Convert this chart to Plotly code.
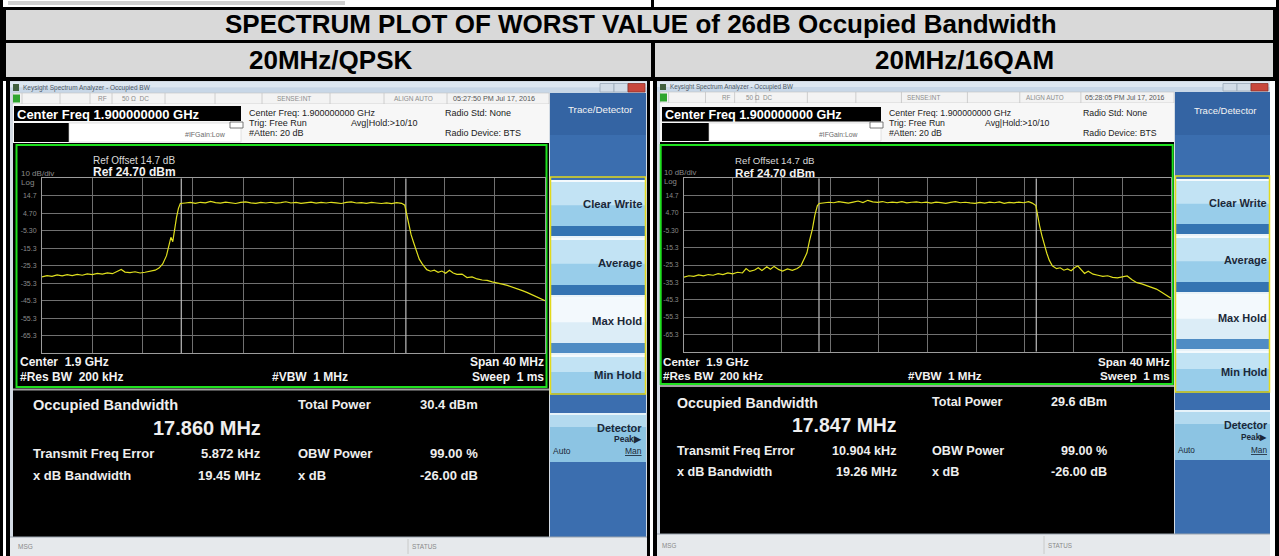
import plotly.graph_objects as go

W, H = 1279, 556

# ------------------------------------------------------------------ data
title_text = "SPECTRUM PLOT OF WORST VALUE of 26dB Occupied Bandwidth"
modulations = ["20MHz/QPSK", "20MHz/16QAM"]
center_freq_mhz = 1900.0
span_mhz = 40.0
ref_level_dbm = 24.7
ref_offset_db = 14.7
db_per_div = 10
rbw_khz = 200
vbw_mhz = 1
sweep_ms = 1
atten_db = 20
y_tick_vals = [14.7, 4.7, -5.3, -15.3, -25.3, -35.3, -45.3, -55.3, -65.3]
y_tick_text = ["14.7", "4.70", "-5.30", "-15.3", "-25.3", "-35.3", "-45.3", "-55.3", "-65.3"]
timestamps = ["05:27:50 PM Jul 17, 2016", "05:28:05 PM Jul 17, 2016"]
occupied_bw_mhz = [17.860, 17.847]
total_power_dbm = [30.4, 29.6]
freq_error_khz = [5.872, 10.904]
xdb_bandwidth_mhz = [19.45, 19.26]
obw_power_pct = [99.00, 99.00]
xdb_value_db = [-26.00, -26.00]
softkeys = ["Clear Write", "Average", "Max Hold", "Min Hold"]

qpsk_freq = [1880.0, 1880.4, 1880.8, 1881.2, 1881.6, 1882.0, 1882.4, 1882.8, 1883.2, 1883.6,
             1884.0, 1884.4, 1884.8, 1885.2, 1885.6, 1886.0, 1886.3, 1886.6, 1887.0, 1887.4,
             1887.8, 1888.2, 1888.6, 1889.0, 1889.3, 1889.6, 1889.9, 1890.1, 1890.25, 1890.4,
             1890.55, 1890.7, 1890.85, 1891.0, 1891.4, 1891.8, 1892.2, 1892.6, 1893.0, 1893.4,
             1893.8, 1894.2, 1894.6, 1895.0, 1895.4, 1895.8, 1896.2, 1896.6, 1897.0, 1897.4,
             1897.8, 1898.2, 1898.6, 1899.0, 1899.4, 1899.8, 1900.2, 1900.6, 1901.0, 1901.4,
             1901.8, 1902.2, 1902.6, 1903.0, 1903.4, 1903.8, 1904.2, 1904.6, 1905.0, 1905.4,
             1905.8, 1906.2, 1906.6, 1907.0, 1907.4, 1907.8, 1908.2, 1908.6, 1908.85, 1909.0,
             1909.15, 1909.35, 1909.55, 1909.8, 1910.0, 1910.25, 1910.6, 1910.9, 1911.2, 1911.5,
             1911.8, 1912.1, 1912.4, 1912.7, 1913.0, 1913.4, 1913.8, 1914.2, 1914.6, 1915.0,
             1915.4, 1915.8, 1916.2, 1916.6, 1917.0, 1917.4, 1917.8, 1918.2, 1918.6, 1919.0,
             1919.4, 1919.7, 1920.0]
qpsk_level = [-31.6, -30.9, -31.3, -30.5, -31.0, -30.4, -30.9, -30.2, -30.7, -29.9,
              -30.3, -29.6, -30.0, -29.3, -29.8, -28.4, -27.4, -28.9, -29.2, -28.7,
              -29.4, -29.0, -28.6, -27.8, -26.6, -24.2, -19.5, -14.0, -9.0, -11.5,
              -4.0, 2.5, 7.5, 10.3, 10.6, 10.9, 10.4, 11.0, 10.7, 11.5,
              10.8, 10.5, 11.1, 10.6, 10.3, 10.9, 11.2, 10.7, 10.4, 10.9,
              10.6, 11.0, 10.5, 10.8, 11.3, 10.6, 10.9, 10.4, 10.8, 11.1,
              10.5, 10.9, 10.6, 11.0, 10.7, 10.3, 10.9, 11.2, 10.6, 10.8,
              10.4, 10.9, 10.6, 10.3, 10.7, 10.2, 10.8, 10.4, 9.3, 4.0,
              -1.5, -7.5, -12.0, -18.0, -21.5, -24.3, -27.5, -28.4, -27.8, -29.0,
              -28.3, -29.6, -27.9, -29.4, -30.2, -30.0, -32.0, -31.6, -32.8, -33.4,
              -33.6, -34.5, -35.0, -35.8, -36.5, -37.5, -38.1, -39.5, -40.6, -41.8,
              -43.2, -44.0, -45.2]

qam16_freq = [1880.0, 1880.4, 1880.8, 1881.2, 1881.6, 1882.0, 1882.4, 1882.8, 1883.2, 1883.6,
              1884.0, 1884.4, 1884.8, 1885.1, 1885.4, 1885.8, 1886.1, 1886.4, 1886.8, 1887.1,
              1887.4, 1887.8, 1888.1, 1888.5, 1888.9, 1889.3, 1889.6, 1889.85, 1890.1, 1890.3,
              1890.55, 1890.75, 1890.95, 1891.1, 1891.5, 1891.9, 1892.3, 1892.7, 1893.1, 1893.5,
              1893.9, 1894.3, 1894.7, 1895.1, 1895.5, 1895.9, 1896.3, 1896.7, 1897.1, 1897.5,
              1897.9, 1898.3, 1898.7, 1899.1, 1899.5, 1899.9, 1900.3, 1900.7, 1901.1, 1901.5,
              1901.9, 1902.3, 1902.7, 1903.1, 1903.5, 1903.9, 1904.3, 1904.7, 1905.1, 1905.5,
              1905.9, 1906.3, 1906.7, 1907.1, 1907.5, 1907.9, 1908.3, 1908.6, 1908.9, 1909.05,
              1909.2, 1909.4, 1909.6, 1909.8, 1910.0, 1910.25, 1910.6, 1910.9, 1911.2, 1911.5,
              1911.8, 1912.1, 1912.35, 1912.6, 1912.9, 1913.2, 1913.6, 1914.0, 1914.4, 1914.8,
              1915.2, 1915.6, 1916.0, 1916.4, 1916.8, 1917.2, 1917.6, 1918.0, 1918.4, 1918.8,
              1919.2, 1919.6, 1920.0]
qam16_level = [-32.3, -31.5, -31.9, -31.0, -31.6, -30.8, -31.2, -30.3, -30.8, -29.9,
               -30.4, -29.5, -29.9, -27.4, -29.0, -28.2, -26.9, -28.5, -26.3, -27.8,
               -26.1, -28.0, -28.8, -27.6, -28.4, -27.3, -25.8, -22.5, -18.3, -11.5,
               -4.5, 3.5, 8.8, 10.2, 10.5, 10.9, 10.6, 11.2, 10.8, 10.4,
               11.0, 11.6, 10.7, 12.0, 11.1, 10.8, 11.3, 10.6, 11.0, 10.7,
               11.2, 10.5, 10.9, 11.1, 10.6, 10.9, 10.4, 11.0, 10.7, 10.3,
               10.8, 11.2, 10.6, 10.9, 10.5, 10.2, 10.8, 10.4, 10.9, 10.6,
               11.1, 10.3, 10.8, 10.5, 11.0, 10.6, 11.2, 10.4, 9.0, 3.0,
               -2.5, -8.5, -14.0, -18.5, -22.5, -25.8, -27.4, -26.9, -28.3, -27.6,
               -28.6, -26.7, -25.9, -27.8, -30.2, -28.9, -30.6, -31.2, -31.9, -31.5,
               -32.4, -32.7, -32.3, -31.6, -33.8, -35.5, -36.2, -37.1, -38.0, -39.2,
               -40.9, -42.5, -44.4]

traces_freq = [qpsk_freq, qam16_freq]
traces_level = [qpsk_level, qam16_level]

# ------------------------------------------------------------------ helpers
FONT = "Arial, 'Liberation Sans', Helvetica, sans-serif"
NB = "\u00a0"
shapes, annots = [], []


def X(px):
    return px / W


def Y(py):
    return 1 - py / H


def rect(x0, y0, x1, y1, fill="rgba(0,0,0,0)", line=None, lw=0):
    shapes.append(dict(type="rect", xref="paper", yref="paper", layer="below",
                       x0=X(x0), x1=X(x1), y0=Y(y1), y1=Y(y0), fillcolor=fill,
                       line=dict(width=lw, color=line if line else "rgba(0,0,0,0)")))


def hline(x0, x1, y, color, w=1):
    shapes.append(dict(type="line", xref="paper", yref="paper", layer="below",
                       x0=X(x0), x1=X(x1), y0=Y(y), y1=Y(y), line=dict(color=color, width=w)))


def vline(x, y0, y1, color, w=1):
    shapes.append(dict(type="line", xref="paper", yref="paper", layer="below",
                       x0=X(x), x1=X(x), y0=Y(y0), y1=Y(y1), line=dict(color=color, width=w)))


def txt(x, y, s, size, color="#000000", bold=False, anchor="left"):
    annots.append(dict(xref="paper", yref="paper", x=X(x), y=Y(y),
                       text="<b>%s</b>" % s if bold else s, showarrow=False,
                       xanchor=anchor, yanchor="middle", borderpad=0, borderwidth=0,
                       font=dict(size=size, color=color, family=FONT)))


# ------------------------------------------------------------------ table
rect(0, 0, W, H, "#ffffff")
rect(0, 0, 3, H, "#000000")
rect(1276, 0, W, H, "#000000")
rect(651, 0, 654, 8, "#000000")
rect(8, 1, 345, 5, "#d0d0d0")
rect(0, 7, W, 10, "#000000")
rect(0, 7, 6, 81, "#000000")
rect(1273, 7, W, 81, "#000000")
rect(6, 10, 1273, 40, "#d9d9d9")
rect(0, 40, W, 43, "#000000")
rect(6, 43, 1273, 77, "#d9d9d9")
rect(651, 40, 655, 81, "#000000")
rect(0, 77, W, 81, "#000000")
rect(6, 81, 10, H, "#000000")
rect(647, 81, 650, H, "#000000")
rect(653, 81, 657, H, "#000000")
rect(1275, 81, W, H, "#000000")

txt(640.5, 24.5, title_text, 26, "#000000", True, "center")
txt(330.5, 60.5, modulations[0], 26, "#000000", True, "center")
txt(964.5, 60.5, modulations[1], 26, "#000000", True, "center")

# ------------------------------------------------------------------ windows
GEOM = [
    dict(s=1.0, wx=(10, 647), tb=(82, 93), st=(93, 104), hd=(104, 143), dx1=549,
         pxr=(550, 646), green=(16.5, 145, 546.5, 387), sep=389.5, sbar=(537, 556),
         cfbox=(14, 106, 241, 121), box2=(14, 123, 69, 142), ifg=(226, 134),
         hx=(249, 351, 445), hy=(113, 123, 133), sty=98.5,
         stx=(98, 122, 277, 394, 453),
         refx=93, refy=(160, 172), divx=21, divy=(173, 183),
         cenx=20, ceny=(362, 377), vbwx=272, spanx=544,
         m=(32.7, 261, 298, 477.5), my=(405, 428, 453, 475), mtp=404,
         btn=(180, 238, 297, 355, 393), det=(413, 462), dark1=537, ptx=642, tdy=109,
         dety=(428, 439, 451), msgx=(18, 412), grid=(42, 178.3, 545, 353.3)),
    dict(s=0.97, wx=(657, 1270), tb=(82, 92), st=(92, 103), hd=(103, 142), dx1=1174,
         pxr=(1175, 1270), green=(660.7, 145, 1172.7, 384), sep=386, sbar=(534, 556),
         cfbox=(662, 107, 881, 121.5), box2=(662, 123, 709, 141), ifg=(858, 134),
         hx=(889, 985, 1083), hy=(113, 123, 133), sty=97.5,
         stx=(722, 746, 907, 1026, 1085),
         refx=735, refy=(160, 172), divx=664, divy=(172, 182),
         cenx=663, ceny=(361, 375), vbwx=908, spanx=1170,
         m=(677, 897, 932, 1107), my=(403, 425, 450.7, 471.7), mtp=401.7,
         btn=(179, 236, 294, 351, 391), det=(410, 460), dark1=534, ptx=1267, tdy=110,
         dety=(425, 437, 450), msgx=(662, 1048), grid=(684, 178.3, 1171, 351.7)),
]


def draw_window(i, g):
    s = g["s"]
    wx0, wx1 = g["wx"]
    tb0, tb1 = g["tb"]
    st0, st1 = g["st"]
    hd0, hd1 = g["hd"]
    dx1 = g["dx1"]
    px0, px1 = g["pxr"]
    sb0, sb1 = g["sbar"]
    # frame
    rect(wx0, 81, wx1, H, "#d3dbe4")
    # title bar
    tm = (tb0 + tb1) / 2
    rect(wx0, tb0, wx1, tm, "#dde7f1")
    rect(wx0, tm, wx1, tb1, "#c8d7e7")
    rect(wx0 + 3, tb0 + 2, wx0 + 9, tb1 - 2, "#41603f")
    txt(wx0 + 13, tm, "Keysight Spectrum Analyzer - Occupied BW", 6.5 * s, "#4d5866")
    bx = wx1 - 47
    rect(bx, tb0 + 1.5, bx + 14, tb1 - 1, "#d3dde8", "#9aa8b8", 0.8)
    rect(bx + 14, tb0 + 1.5, bx + 28, tb1 - 1, "#d3dde8", "#9aa8b8", 0.8)
    rect(bx + 28, tb0 + 1.5, bx + 45, tb1 - 1, "#c8473c", "#8a3028", 0.8)
    # status row
    rect(wx0 + 3, st0, dx1, st1, "#f3f3f3", "#c4c4c4", 0.6)
    for rel in (12, 50, 80, 102, 155, 205, 252, 320, 374, 437):
        vline(wx0 + rel * s, st0, st1, "#c4c4c4", 0.8)
    rect(wx0 + 3, st0 + 1.5, wx0 + 10, st1 - 1.5, "#2fa52f")
    sx = g["stx"]
    sy = g["sty"]
    txt(sx[0], sy, "RF", 6.5 * s, "#8c8c8c")
    txt(sx[1], sy, "50 \u03a9" + NB + NB + "DC", 6.5 * s, "#8c8c8c")
    txt(sx[2], sy, "SENSE:INT", 6.5 * s, "#8c8c8c")
    txt(sx[3], sy, "ALIGN AUTO", 6.5 * s, "#8c8c8c")
    txt(sx[4], sy, timestamps[i], 7.2 * s, "#555555")
    # header
    rect(wx0 + 3, hd0, dx1, hd1, "#f7f7f7")
    c = g["cfbox"]
    rect(c[0], c[1], c[2], c[3], "#000000")
    txt(c[0] + 2.5, (c[1] + c[3]) / 2 + 0.5,
        "Center Freq %.9f GHz" % (center_freq_mhz / 1000), 13 * s, "#ffffff", True)
    b2 = g["box2"]
    rect(b2[0], b2[1], b2[2], b2[3], "#000000")
    rect(b2[2], b2[1], c[2], b2[3], "#ffffff", "#d0d0d0", 0.6)
    rect(c[2] - 11, b2[1] - 1, c[2] + 2, b2[1] + 5, "#ffffff", "#555555", 0.8)
    txt(g["ifg"][0], g["ifg"][1], "#IFGain:Low", 7 * s, "#6a6a6a", False, "right")
    hx, hy = g["hx"], g["hy"]
    hs = 9 * s
    txt(hx[0], hy[0], "Center Freq: %.9f GHz" % (center_freq_mhz / 1000), hs, "#222222")
    txt(hx[0], hy[1], "Trig: Free Run", hs, "#222222")
    txt(hx[1], hy[1], "Avg|Hold:>10/10", hs, "#222222")
    txt(hx[0], hy[2], "#Atten: %d dB" % atten_db, hs, "#222222")
    txt(hx[2], hy[0], "Radio Std: None", hs, "#222222")
    txt(hx[2], hy[2], "Radio Device: BTS", hs, "#222222")
    # main display
    rect(wx0 + 3, hd1, dx1, sb0, "#000000")
    gr = g["green"]
    rect(gr[0], gr[1], gr[2], gr[3], "rgba(0,0,0,0)", "#1fe01f", 2)
    hline(wx0 + 3, dx1, g["sep"], "#a0a0a0", 2)
    txt(g["refx"], g["refy"][0], "Ref Offset %.1f dB" % ref_offset_db, 10 * s, "#d8d8d8")
    txt(g["refx"], g["refy"][1], "Ref %.2f dBm" % ref_level_dbm, 12 * s, "#f2f2f2", True)
    txt(g["divx"], g["divy"][0], "%d dB/div" % db_per_div, 8 * s, "#8a8a8a")
    txt(g["divx"], g["divy"][1], "Log", 8 * s, "#8a8a8a")
    fs = 12 * s
    txt(g["cenx"], g["ceny"][0], "Center" + NB + NB + "%.1f GHz" % (center_freq_mhz / 1000), fs, "#f2f2f2", True)
    txt(g["cenx"], g["ceny"][1], "#Res BW" + NB + NB + "%d kHz" % rbw_khz, fs, "#f2f2f2", True)
    txt(g["vbwx"], g["ceny"][1], "#VBW" + NB + NB + "%d MHz" % vbw_mhz, fs, "#f2f2f2", True)
    txt(g["spanx"], g["ceny"][0], "Span %d MHz" % span_mhz, fs, "#f2f2f2", True, "right")
    txt(g["spanx"], g["ceny"][1], "Sweep" + NB + NB + "%d ms" % sweep_ms, fs, "#f2f2f2", True, "right")
    # measurement results
    m, my = g["m"], g["my"]
    ms = 13 * s
    wc = "#eeeeee"
    txt(m[0], my[0], "Occupied Bandwidth", 14.6 * s, wc, True)
    txt(m[1], my[1], "%.3f MHz" % occupied_bw_mhz[i], 20 * s, wc, True, "right")
    txt(m[0], my[2], "Transmit Freq Error", ms, wc, True)
    txt(m[1], my[2], "%.3f kHz" % freq_error_khz[i], ms, wc, True, "right")
    txt(m[0], my[3], "x dB Bandwidth", ms, wc, True)
    txt(m[1], my[3], "%.2f MHz" % xdb_bandwidth_mhz[i], ms, wc, True, "right")
    txt(m[2], g["mtp"], "Total Power", ms, wc, True)
    txt(m[3], g["mtp"], "%.1f dBm" % total_power_dbm[i], ms, wc, True, "right")
    txt(m[2], my[2], "OBW Power", ms, wc, True)
    txt(m[3], my[2], "%.2f %%" % obw_power_pct[i], ms, wc, True, "right")
    txt(m[2], my[3], "x dB", ms, wc, True)
    txt(m[3], my[3], "%.2f dB" % xdb_value_db[i], ms, wc, True, "right")
    # soft-key panel
    rect(px0, st0, px1, g["dark1"], "#3b6eaf")
    rect(px0, st0, px1, 135, "#3464a3")
    txt((px0 + px1) / 2 + 2, g["tdy"], "Trace/Detector", 9.8 * s, "#f4f4f4", False, "center")
    b = g["btn"]
    for k in range(4):
        y0 = b[k]
        y1 = b[k + 1] - 2 if k < 3 else b[4]
        sel = (k == 2)
        body = "#dcedf7" if sel else "#98cdea"
        top = "#f3f9fd" if sel else "#c2e3f4"
        band = "#4f8cc4" if sel else "#3474b2"
        rect(px0, y0, px1, y1, body)
        rect(px0, y0, px1, y0 + (y1 - y0) * 0.45, top)
        rect(px0, y0, px1, y0 + 2, "#f4fafd")
        if k < 3:
            rect(px0, y1 - 10, px1, y1, band)
            rect(px0, y1, px1, y1 + 2, "#e8f2f8")
        txt(g["ptx"], (y0 + (y1 - (10 if k < 3 else 0))) / 2 + 1, softkeys[k], 11.3 * s, "#1b2838", True, "right")
    rect(px0 + 0.5, b[0] - 3, px1 - 0.5, b[4] + 1, "rgba(0,0,0,0)", "#e2d91c", 1.5)
    d0, d1 = g["det"]
    rect(px0, d0, px1, d1, "#8cc4e3")
    rect(px0, d0, px1, d0 + 14, "#b3daef")
    rect(px0, d0, px1, d0 + 2, "#e6f3fa")
    dy = g["dety"]
    txt(g["ptx"], dy[0], "Detector", 11 * s, "#1b2838", True, "right")
    txt(g["ptx"], dy[1], "Peak\u25b6", 8.5 * s, "#1b2838", True, "right")
    txt(px0 + 3, dy[2], "Auto", 8.5 * s, "#1b2838")
    txt(g["ptx"], dy[2], '<span style="text-decoration:underline">Man</span>', 8.5 * s, "#1b2838", False, "right")
    # status bar
    rect(wx0, sb0, wx1, sb1, "#e6e9ec")
    hline(wx0, wx1, sb0, "#9aa4ae", 1)
    mx = g["msgx"]
    txt(mx[0], (sb0 + sb1) / 2, "MSG", 6.5 * s, "#8a8a8a")
    vline(mx[1] - 4, sb0 + 2, sb1 - 2, "#c2c2c2", 0.8)
    txt(mx[1], (sb0 + sb1) / 2, "STATUS", 6.5 * s, "#8a8a8a")


for i, g in enumerate(GEOM):
    draw_window(i, g)

# ------------------------------------------------------------------ spectrum plots
fig = go.Figure()
layout_axes = {}
ybot = ref_level_dbm - 10 * db_per_div
for i, g in enumerate(GEOM):
    gx0, gy0, gx1, gy1 = g["grid"]
    sfx = "" if i == 0 else "2"
    # occupied-bandwidth marker lines (drawn first, under the trace)
    fc = center_freq_mhz + freq_error_khz[i] / 1000
    for f in (fc - occupied_bw_mhz[i] / 2, fc + occupied_bw_mhz[i] / 2):
        fig.add_trace(go.Scatter(x=[f, f], y=[ybot, ref_level_dbm], mode="lines",
                                 line=dict(color="#bdbdbd", width=1.2),
                                 xaxis="x" + sfx, yaxis="y" + sfx, showlegend=False,
                                 hoverinfo="skip"))
    fig.add_trace(go.Scatter(x=traces_freq[i], y=traces_level[i], mode="lines",
                             line=dict(color="#e0e01e", width=1.2),
                             xaxis="x" + sfx, yaxis="y" + sfx, showlegend=False,
                             hoverinfo="skip"))
    common = dict(showgrid=True, gridcolor="#707070", gridwidth=1, showline=True,
                  mirror=True, linecolor="#9c9c9c", linewidth=1, zeroline=False,
                  fixedrange=True)
    layout_axes["xaxis" + sfx] = dict(
        domain=[X(gx0), X(gx1)],
        range=[center_freq_mhz - span_mhz / 2, center_freq_mhz + span_mhz / 2],
        tick0=center_freq_mhz - span_mhz / 2, dtick=span_mhz / 10,
        showticklabels=False, ticks="", anchor="y" + sfx, **common)
    layout_axes["yaxis" + sfx] = dict(
        domain=[Y(gy1), Y(gy0)],
        range=[ybot, ref_level_dbm],
        tickvals=y_tick_vals, ticktext=y_tick_text, ticks="",
        ticklabelstandoff=3,
        tickfont=dict(size=7 * g["s"], color="#8a8a8a", family=FONT),
        anchor="x" + sfx, **common)

fig.update_layout(
    width=W, height=H, autosize=False,
    margin=dict(l=0, r=0, t=0, b=0, pad=0),
    paper_bgcolor="#ffffff", plot_bgcolor="#000000",
    shapes=shapes, annotations=annots, showlegend=False,
    **layout_axes,
)

fig.write_html("out.html", config={"displayModeBar": False},
               post_script="document.body.style.margin='0px';document.body.style.overflow='hidden';")
